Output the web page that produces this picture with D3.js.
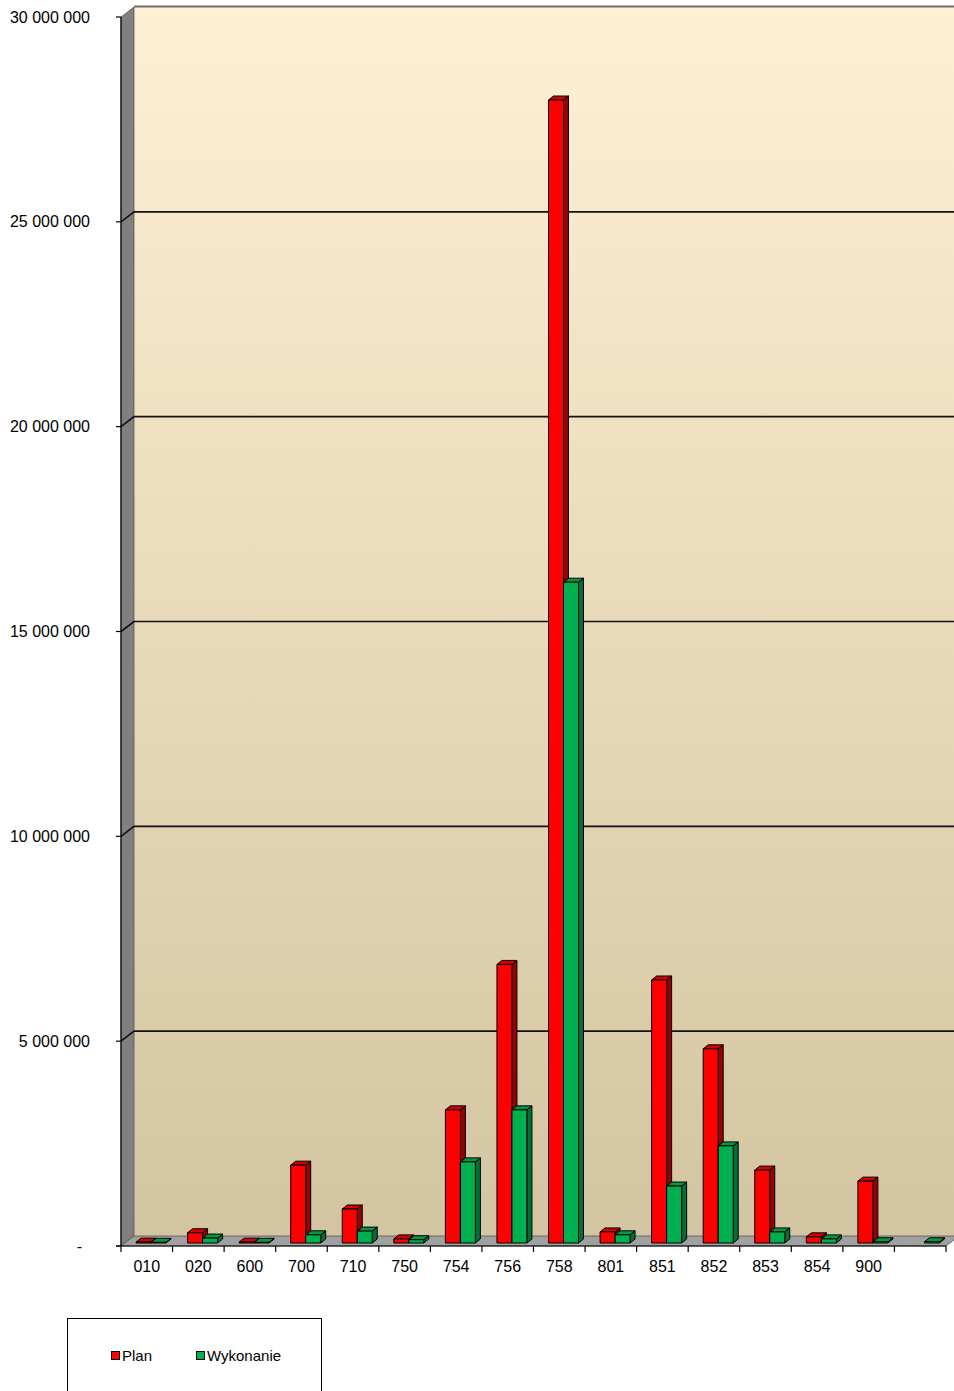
<!DOCTYPE html>
<html lang="pl">
<head>
  <meta charset="UTF-8" />
  <title>Plan i wykonanie</title>
  <script src="https://d3js.org/d3.v7.min.js"></script>
  <style>
    body { margin: 0; background: #fff; }
    svg { display: block; font-family: "Liberation Sans", Arial, sans-serif; }
  </style>
</head>
<body>
  <svg id="chart" width="954" height="1391"></svg>

  <script>
    // dane
    const categories = ["010", "020", "600", "700", "710", "750", "754", "756", "758", "801", "851", "852", "853", "854", "900", ""];
    const plan =      [20000, 250000, 20000, 1900000, 830000, 100000, 3250000, 6800000, 27900000, 270000, 6420000, 4740000, 1780000, 150000, 1510000, 0];
    const wykonanie = [15000, 120000, 15000, 200000, 290000, 80000, 1980000, 3250000, 16130000, 200000, 1390000, 2370000, 270000, 100000, 30000, 30000];
    const yTicks = [0, 5000000, 10000000, 15000000, 20000000, 25000000, 30000000];
    const seriesNames = ["Plan", "Wykonanie"];

    const colors = [
      { front: "#ff0000", top: "#d40000", side: "#990000" },
      { front: "#00b050", top: "#009a45", side: "#00703a" }
    ];

    const svg = d3.select("#chart");
    const W = 954;

    // przednia płaszczyzna wykresu
    const pLeft = 121, pRight = 946, pBottom = 1246, pTop = 17;
    const depthX = 13, depthY = -10;   // głębokość ścian
    const barShiftX = 4, barShiftY = -3; // słupki w środku głębokości
    const barDX = 5, barDY = -4;       // głębokość słupka
    const barW = 15;

    const x = d3.scaleBand().domain(d3.range(categories.length)).range([pLeft, pRight]);
    const y = d3.scaleLinear().domain([0, 30000000]).range([pBottom, pTop]);

    const defs = svg.append("defs");
    const grad = defs.append("linearGradient").attr("id", "wall")
      .attr("x1", 0).attr("y1", 0).attr("x2", 0).attr("y2", 1);
    grad.append("stop").attr("offset", "0%").attr("stop-color", "#ffefd4");
    grad.append("stop").attr("offset", "100%").attr("stop-color", "#d3c5a1");

    const pts = a => a.map(p => p.join(",")).join(" ");

    // tylna ściana
    svg.append("rect")
      .attr("x", pLeft + depthX).attr("y", pTop + depthY)
      .attr("width", W - pLeft - depthX + 10).attr("height", pBottom - pTop)
      .attr("fill", "url(#wall)");

    // górna krawędź tylnej ściany
    svg.append("line")
      .attr("x1", pLeft + depthX).attr("x2", W)
      .attr("y1", pTop + depthY - 0.5).attr("y2", pTop + depthY - 0.5)
      .attr("stroke", "#6e6e6e").attr("stroke-width", 2);

    // lewa ściana
    svg.append("polygon")
      .attr("points", pts([[pLeft, pTop], [pLeft + depthX, pTop + depthY], [pLeft + depthX, pBottom + depthY], [pLeft, pBottom]]))
      .attr("fill", "#808080").attr("stroke", "#555").attr("stroke-width", 0.8);

    // podłoga
    svg.append("polygon")
      .attr("points", pts([[pLeft, pBottom], [pLeft + depthX, pBottom + depthY], [pRight + depthX, pBottom + depthY], [pRight, pBottom]]))
      .attr("fill", "#a0a0a0").attr("stroke", "#555").attr("stroke-width", 0.8);

    // linie siatki
    yTicks.filter(v => v > 0 && v < 30000000).forEach(v => {
      svg.append("polyline")
        .attr("points", pts([[pLeft, y(v)], [pLeft + depthX, y(v) + depthY], [W, y(v) + depthY]]))
        .attr("fill", "none").attr("stroke", "#111").attr("stroke-width", 1.6);
    });

    // słupki
    categories.forEach((c, i) => {
      [plan[i], wykonanie[i]].forEach((v, j) => {
        if (!v) return;
        const bx = x(i) + 11 + barShiftX + j * barW;
        const yb = pBottom + barShiftY;
        const yt = y(v) + barShiftY;
        const col = colors[j];
        const g = svg.append("g").attr("stroke", "#000").attr("stroke-width", 1).attr("stroke-linejoin", "round");
        g.append("polygon")
          .attr("points", pts([[bx + barW, yt], [bx + barW + barDX, yt + barDY], [bx + barW + barDX, yb + barDY], [bx + barW, yb]]))
          .attr("fill", col.side);
        g.append("polygon")
          .attr("points", pts([[bx, yt], [bx + barDX, yt + barDY], [bx + barW + barDX, yt + barDY], [bx + barW, yt]]))
          .attr("fill", col.top);
        g.append("rect")
          .attr("x", bx).attr("y", yt)
          .attr("width", barW).attr("height", Math.max(0, yb - yt))
          .attr("fill", col.front);
      });
    });

    // oś Y
    const yAxis = svg.append("g");
    yAxis.append("line")
      .attr("x1", pLeft).attr("x2", pLeft).attr("y1", pTop).attr("y2", pBottom)
      .attr("stroke", "#000").attr("stroke-width", 1.2);
    yTicks.forEach(v => {
      yAxis.append("line")
        .attr("x1", pLeft - 5).attr("x2", pLeft).attr("y1", y(v)).attr("y2", y(v))
        .attr("stroke", "#000").attr("stroke-width", 1.2);
      yAxis.append("text")
        .attr("x", v === 0 ? 82 : 90).attr("y", y(v)).attr("dy", "0.35em")
        .attr("text-anchor", "end").attr("font-size", 16).attr("fill", "#000")
        .text(v === 0 ? "-" : d3.format(",")(v).replace(/,/g, " "));
    });

    // oś X
    const xAxis = svg.append("g");
    xAxis.append("line")
      .attr("x1", pLeft - 5).attr("x2", pRight).attr("y1", pBottom).attr("y2", pBottom)
      .attr("stroke", "#000").attr("stroke-width", 1.2);
    d3.range(categories.length + 1).forEach(i => {
      const tx = pLeft + i * x.step();
      xAxis.append("line")
        .attr("x1", tx).attr("x2", tx).attr("y1", pBottom).attr("y2", pBottom + 6)
        .attr("stroke", "#000").attr("stroke-width", 1.2);
    });
    categories.forEach((c, i) => {
      xAxis.append("text")
        .attr("x", x(i) + x.bandwidth() / 2).attr("y", 1266).attr("dy", "0.35em")
        .attr("text-anchor", "middle").attr("font-size", 16).attr("fill", "#000")
        .text(c);
    });

    // legenda
    const legend = svg.append("g");
    legend.append("rect")
      .attr("x", 67.5).attr("y", 1318.5).attr("width", 254).attr("height", 90)
      .attr("fill", "#fff").attr("stroke", "#000").attr("stroke-width", 1);
    const legX = [111, 196];
    seriesNames.forEach((name, j) => {
      legend.append("rect")
        .attr("x", legX[j] + 0.5).attr("y", 1351.5).attr("width", 8).attr("height", 8)
        .attr("fill", colors[j].front).attr("stroke", "#000").attr("stroke-width", 1);
      legend.append("text")
        .attr("x", legX[j] + 11).attr("y", 1356).attr("dy", "0.35em")
        .attr("font-size", 15).attr("fill", "#000")
        .text(name);
    });
  </script>
</body>
</html>
